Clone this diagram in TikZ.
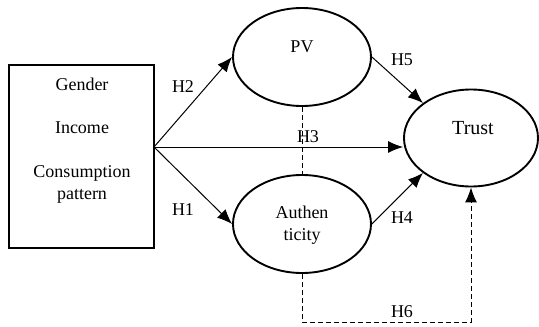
\documentclass[tikz,border=0pt]{standalone}
\usepackage{fontspec}
\setmainfont{Liberation Serif}
\usetikzlibrary{shapes.geometric,arrows.meta}
\begin{document}
\begin{tikzpicture}[x=1pt,y=-1pt,
  ell/.style={ellipse,draw,line width=1.9pt,minimum width=138pt,minimum height=98pt,inner sep=0pt},
  boxs/.style={rectangle,draw,line width=1.9pt,minimum width=145pt,minimum height=183pt,inner sep=0pt},
  txt/.style={font=\fontsize{18}{22}\selectfont,inner sep=0pt,align=center},
  tip/.style={-{Latex[length=15pt,width=12pt]}},
  arr/.style={line width=1pt,tip},
  dsh/.style={line width=1pt,dash pattern=on 5pt off 3pt}]
\useasboundingbox (0,0) rectangle (539,327);
\node[boxs] (box) at (81.5,156.5) {};
\node[txt] (gender) at (82,84) {Gender};
\node[txt] (income) at (82,128) {Income};
\node[txt] (cons) at (82,184) {Consumption\\pattern};
\node[ell] (pv) at (302,57) {};
\node[ell] (auth) at (302,224) {};
\node[ell,minimum width=134pt,minimum height=97pt] (trust) at (471,138) {};
\node[txt] (pvt) at (302,47) {PV};
\node[txt] (autht) at (302,225) {Authen\\ticity};
\node[txt,font=\fontsize{20}{24}\selectfont] (trustt) at (473,128) {Trust};
\coordinate (src) at (154,147);
\draw[arr] (src) -- (pv.west);
\draw[arr] (src) -- (auth.west);
\draw[arr] (src) -- (src -| trust.west);
\draw[arr] (pv.east) -- (trust.north west);
\draw[arr] (auth.east) -- (trust.south west);
\draw[dsh] (pv.south) -- (auth.north);
\coordinate (corner) at (302,322);
\draw[dsh,tip] (auth.south) -- (corner) -| (trust.south);
\node[txt] (h2) at (183,87) {H2};
\node[txt] (h1) at (183,210) {H1};
\node[txt] (h3) at (308,137) {H3};
\node[txt] (h5) at (402,60) {H5};
\node[txt] (h4) at (402,218) {H4};
\node[txt] (h6) at (402,312) {H6};
\end{tikzpicture}
\end{document}
